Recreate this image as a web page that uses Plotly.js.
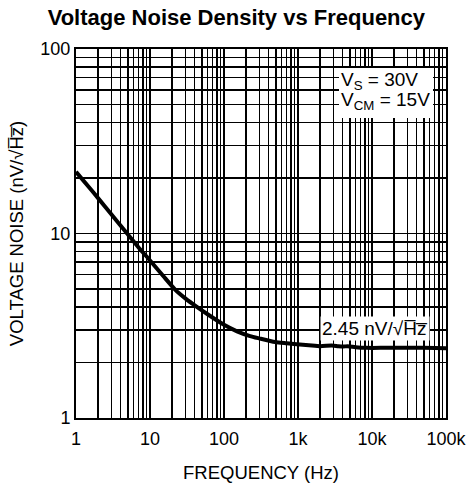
<!DOCTYPE html>
<html><head><meta charset="utf-8">
<script src="https://cdn.plot.ly/plotly-3.0.1.min.js"></script>
<style>html,body{margin:0;padding:0;background:#fff;}#chart{width:468px;height:494px;}</style>
</head><body><div id="chart"></div>
<script>
const freq = [1, 1.5, 2, 3, 5, 7, 9, 15, 22, 30, 43, 60, 100, 150, 225, 300, 490, 700, 960, 1400, 2000, 2850, 3500, 4100, 4700, 6000, 8500, 15000, 24000, 50000, 100000];
const noise = [21.6, 17.8, 15.5, 12.7, 9.9, 8.4, 7.5, 5.9, 4.95, 4.45, 4.0, 3.65, 3.2, 2.95, 2.78, 2.7, 2.58, 2.54, 2.51, 2.48, 2.45, 2.47, 2.45, 2.44, 2.45, 2.42, 2.40, 2.40, 2.40, 2.40, 2.39];
const xMajor = [1, 10, 100, 1000, 10000, 100000];
const xMajorText = ['1', '10', '100', '1k', '10k', '100k'];
const yMajor = [1, 10, 100];
const yMajorText = ['1', '10', '100'];

function minorTicks(majors) {
  const v = [];
  for (let i = 0; i < majors.length - 1; i++) for (let k = 2; k <= 9; k++) v.push(majors[i] * k);
  return v;
}
const font = 'Liberation Sans, Arial, sans-serif';
const gridStyle = {showgrid: true, gridcolor: '#000', gridwidth: 1.6};
const data = [{
  x: freq, y: noise, type: 'scatter', mode: 'lines',
  line: {color: '#000', width: 4, shape: 'spline', smoothing: 0.6},
  hoverinfo: 'skip'
}];
function px2x(p) { return (p - 76) / 370; }
function px2y(p) { return (418 - p) / 369; }
const layout = {
  width: 468, height: 494,
  margin: {l: 76, r: 22, t: 49, b: 76},
  paper_bgcolor: '#fff', plot_bgcolor: '#fff',
  showlegend: false,
  font: {family: font, color: '#000', size: 18},
  title: {text: '<b>Voltage Noise Density vs Frequency</b>', font: {family: font, size: 22, color: '#000'}, x: 0.505, xanchor: 'center', y: 0.965, yanchor: 'middle'},
  xaxis: Object.assign({
    type: 'log', range: [0, 5],
    tickmode: 'array', tickvals: xMajor, ticktext: xMajorText, tickangle: 0,
    minor: Object.assign({tickmode: 'array', tickvals: minorTicks(xMajor), ticks: ''}, gridStyle),
    showline: true, linecolor: '#000', linewidth: 2, mirror: true,
    ticks: '', zeroline: false, ticklabelstandoff: 3,
    tickfont: {family: font, size: 18, color: '#000'},
    title: {text: 'FREQUENCY (Hz)', font: {family: font, size: 18.5, color: '#000'}, standoff: 18}
  }, gridStyle),
  yaxis: Object.assign({
    type: 'log', range: [0, 2],
    tickmode: 'array', tickvals: yMajor, ticktext: yMajorText,
    minor: Object.assign({tickmode: 'array', tickvals: minorTicks(yMajor), ticks: ''}, gridStyle),
    showline: true, linecolor: '#000', linewidth: 2, mirror: true,
    ticks: '', zeroline: false,
    tickfont: {family: font, size: 18, color: '#000'},
    title: {text: 'VOLTAGE NOISE (nV/\u221AH\u0305z\u0305)', font: {family: font, size: 18.5, color: '#000'}, standoff: 12}
  }, gridStyle),
  shapes: [
    {type: 'rect', xref: 'paper', yref: 'paper', layer: 'above',
     x0: px2x(339), x1: px2x(433), y0: px2y(118), y1: px2y(68),
     fillcolor: '#fff', line: {width: 0}}
  ],
  annotations: [
    {xref: 'paper', yref: 'paper', x: px2x(420), y: px2y(81), xanchor: 'right', yanchor: 'middle',
     text: 'V<sub>S</sub> = 30V', align: 'right', showarrow: false,
     font: {family: font, size: 19, color: '#000'}},
    {xref: 'paper', yref: 'paper', x: px2x(432), y: px2y(101), xanchor: 'right', yanchor: 'middle',
     text: 'V<sub>CM</sub> = 15V', align: 'right', showarrow: false,
     font: {family: font, size: 19, color: '#000'}},
    {xref: 'paper', yref: 'paper', x: px2x(430), y: px2y(328), xanchor: 'right', yanchor: 'middle',
     text: '2.45 nV/\u221AH\u0305z\u0305', showarrow: false,
     bgcolor: '#fff', borderpad: 1, font: {family: font, size: 19, color: '#000'}}
  ]
};
Plotly.newPlot('chart', data, layout, {displayModeBar: false, staticPlot: true});
</script></body></html>
